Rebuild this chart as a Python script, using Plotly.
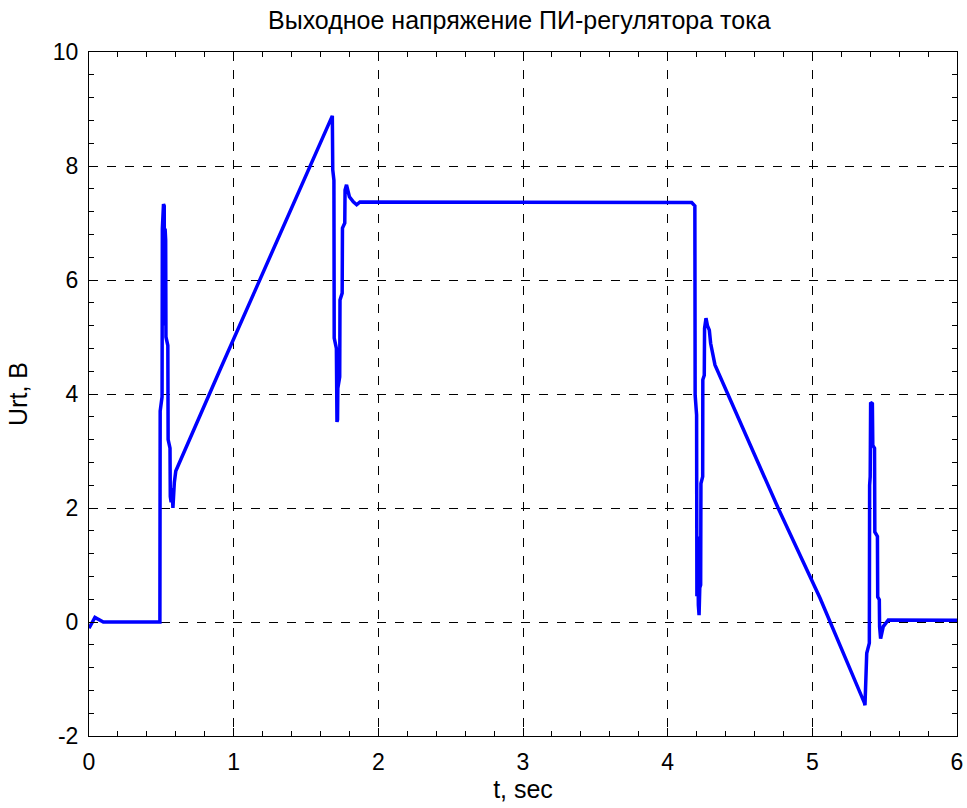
import plotly.graph_objects as go

t_vals = [0.0, 0.041, 0.099, 0.490,
          0.492, 0.505, 0.507, 0.510, 0.515, 0.520, 0.522, 0.526, 0.530, 0.532,
          0.545, 0.547, 0.560, 0.562, 0.568, 0.575, 0.580, 0.590, 0.600,
          0.905, 1.682,
          1.685, 1.693, 1.695, 1.710, 1.714, 1.718, 1.720, 1.733, 1.735, 1.750,
          1.752, 1.768, 1.770, 1.780, 1.800, 1.827, 1.850, 1.873,
          4.166, 4.188, 4.190, 4.200, 4.202, 4.208, 4.212, 4.217, 4.222, 4.228,
          4.230, 4.242, 4.243, 4.253, 4.255, 4.265, 4.275, 4.288, 4.297, 4.327,
          4.765, 5.053, 5.360, 5.364,
          5.376, 5.394, 5.396, 5.400, 5.403, 5.415, 5.418, 5.430, 5.432, 5.450,
          5.452, 5.463, 5.465, 5.472, 5.490, 5.525, 6.0]
u_vals = [-0.11, 0.08, 0.0, 0.0,
          3.70, 3.95, 6.90, 7.00, 7.33, 7.30, 5.20, 6.90, 6.70, 5.00,
          4.85, 3.20, 3.05, 2.20, 2.10, 2.35, 2.00, 2.45, 2.65,
          4.42, 8.88,
          7.93, 7.75, 4.98, 4.80, 3.51, 3.55, 4.10, 4.30, 5.65, 5.77,
          6.91, 7.00, 7.58, 7.67, 7.46, 7.37, 7.32, 7.37,
          7.36, 7.30, 3.98, 3.63, 0.45, 1.50, 0.30, 0.12, 0.60, 0.65,
          2.43, 2.55, 4.25, 4.33, 5.15, 5.33, 5.20, 5.12, 4.89, 4.51,
          1.99, 0.42, -1.42, -1.46,
          -0.55, -0.37, 2.40, 2.55, 3.85, 3.83, 3.10, 3.05, 1.58, 1.50,
          0.44, 0.39, -0.08, -0.29, -0.08, 0.035, 0.03]

x_ticks = [0, 1, 2, 3, 4, 5, 6]
y_ticks = [-2, 0, 2, 4, 6, 8, 10]

fig = go.Figure()
fig.add_trace(go.Scatter(x=t_vals, y=u_vals, mode="lines",
                         line=dict(color="#0000ff", width=3.5), showlegend=False))

font = dict(family="Liberation Sans, Arial, sans-serif", color="black")
axis_common = dict(
    showline=True, linecolor="black", linewidth=1, mirror="allticks",
    ticks="inside", ticklen=8, tickwidth=1, tickcolor="black",
    showgrid=True, gridcolor="black", gridwidth=1, griddash="dash",
    zeroline=False, tickfont=dict(size=23, **font), ticklabelstandoff=5,
    automargin=False,
)
fig.update_xaxes(range=[0, 6], tickvals=x_ticks, ticktext=[str(v) for v in x_ticks],
                 minor=dict(dtick=0.2, ticks="inside", ticklen=5, tickcolor="black", showgrid=False),
                 title=dict(text="t, sec", font=dict(size=25, **font), standoff=4),
                 **axis_common)
fig.update_yaxes(range=[-2, 10], tickvals=y_ticks, ticktext=[str(v) for v in y_ticks],
                 minor=dict(dtick=0.4, tick0=-2, ticks="inside", ticklen=5, tickcolor="black", showgrid=False),
                 title=dict(text="Urt, B", font=dict(size=25, **font), standoff=18),
                 **axis_common)
fig.update_layout(
    width=967, height=808,
    margin=dict(l=89, r=10, t=52, b=72, autoexpand=False),
    paper_bgcolor="white", plot_bgcolor="white",
    title=dict(text="Выходное напряжение ПИ-регулятора тока", x=0.537, xanchor="center",
               y=1 - 20 / 808, yanchor="middle", font=dict(size=25, **font)),
)
post = "document.body.style.margin='0';document.body.style.overflow='hidden';"
fig.write_html("out.html", post_script=post, config={"displayModeBar": False})
